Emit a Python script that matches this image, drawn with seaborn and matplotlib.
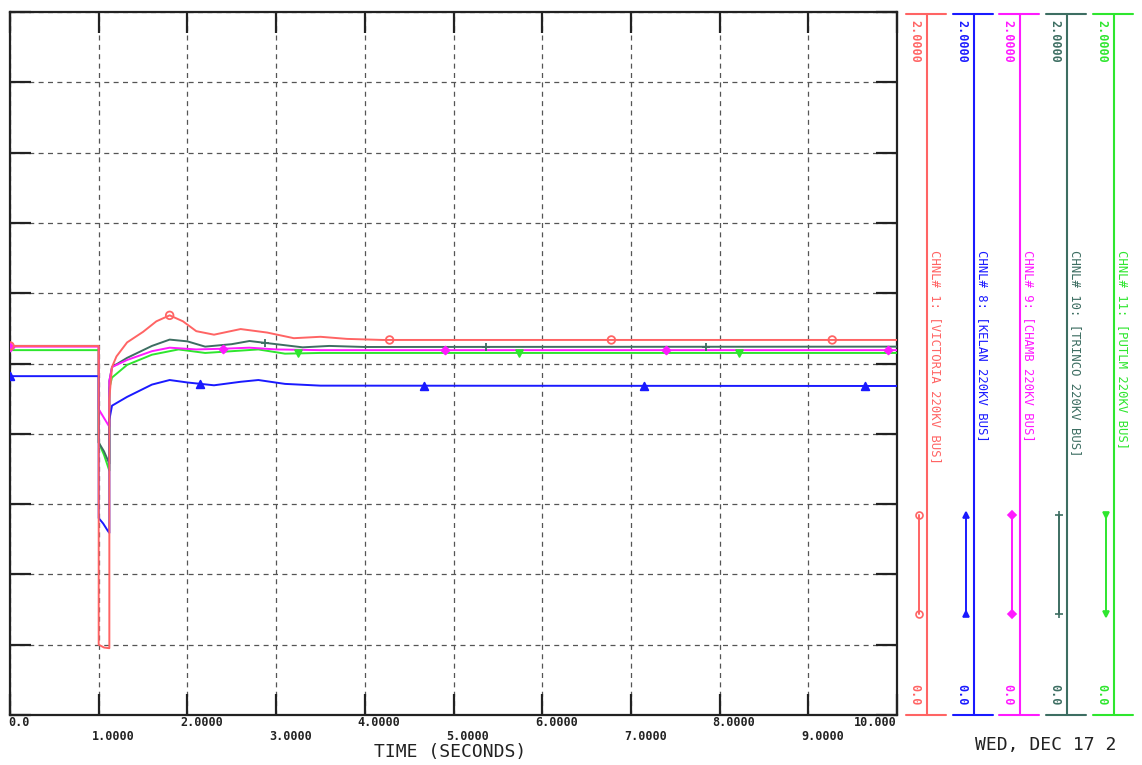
import numpy as np
import pandas as pd
import matplotlib
matplotlib.use("Agg")
import matplotlib.pyplot as plt
from matplotlib.lines import Line2D
from matplotlib import transforms
import seaborn as sns

# ---------------- data ----------------
channel_names = [
    "CHNL# 1: [VICTORIA 220KV BUS]",
    "CHNL# 8: [KELAN 220KV BUS]",
    "CHNL# 9: [CHAMB 220KV BUS]",
    "CHNL# 10: [TRINCO 220KV BUS]",
    "CHNL# 11: [PUTLM 220KV BUS]",
]

t_ch1 = [0.0, 1.0, 1.0, 1.06, 1.12, 1.12, 1.15, 1.20, 1.32, 1.50, 1.65, 1.80, 1.95, 2.10, 2.30, 2.60, 2.90, 3.20, 3.50, 3.80, 4.20, 10.0]
v_ch1 = [1.050, 1.050, 0.200, 0.192, 0.190, 0.900, 0.990, 1.020, 1.060, 1.090, 1.120, 1.137, 1.120, 1.092, 1.082, 1.098, 1.088, 1.072, 1.076, 1.070, 1.067, 1.067]

t_ch8 = [0.0, 1.0, 1.0, 1.05, 1.10, 1.12, 1.12, 1.15, 1.32, 1.60, 1.80, 2.00, 2.30, 2.60, 2.80, 3.10, 3.50, 10.0]
v_ch8 = [0.964, 0.964, 0.560, 0.545, 0.525, 0.518, 0.840, 0.880, 0.905, 0.940, 0.953, 0.946, 0.938, 0.948, 0.953, 0.942, 0.937, 0.936]

t_ch9 = [0.0, 1.0, 1.0, 1.12, 1.12, 1.15, 1.32, 1.60, 1.80, 2.10, 2.40, 2.70, 3.00, 3.50, 10.0]
v_ch9 = [1.048, 1.048, 0.870, 0.820, 0.950, 0.990, 1.010, 1.035, 1.045, 1.040, 1.042, 1.045, 1.040, 1.038, 1.038]

t_ch10 = [0.0, 1.0, 1.0, 1.06, 1.12, 1.12, 1.15, 1.32, 1.60, 1.80, 2.00, 2.20, 2.50, 2.70, 3.00, 3.30, 3.60, 4.00, 10.0]
v_ch10 = [1.050, 1.050, 0.775, 0.750, 0.715, 0.950, 0.990, 1.016, 1.050, 1.068, 1.063, 1.048, 1.055, 1.064, 1.055, 1.046, 1.050, 1.047, 1.048]

t_ch11 = [0.0, 1.0, 1.0, 1.06, 1.12, 1.12, 1.15, 1.32, 1.60, 1.90, 2.20, 2.50, 2.80, 3.10, 3.50, 10.0]
v_ch11 = [1.038, 1.038, 0.775, 0.740, 0.695, 0.930, 0.960, 0.996, 1.025, 1.040, 1.030, 1.035, 1.040, 1.028, 1.030, 1.030]

# marker times along each trace
mk_ch1 = [0.0, 1.80, 4.28, 6.78, 9.27]
mk_ch8 = [0.0, 2.14, 4.67, 7.15, 9.64]
mk_ch9 = [0.0, 2.40, 4.90, 7.40, 9.90]
mk_ch10 = [2.87, 5.37, 7.85]
mk_ch11 = [3.25, 5.74, 8.22]

x_ticks = [0, 1, 2, 3, 4, 5, 6, 7, 8, 9, 10]
x_tick_labels = ["0.0", "1.0000", "2.0000", "3.0000", "4.0000", "5.0000",
                 "6.0000", "7.0000", "8.0000", "9.0000", "10.000"]
x_label = "TIME (SECONDS)"
date_text = "WED, DEC 17 2"
scale_top = "2.0000"
scale_bottom = "0.0"

colors = ["#ff6464", "#1a1aff", "#ff1aff", "#3d6e62", "#2ee62e"]
markers = ["o", "^", "D", "+", "v"]
marker_sizes = [30, 30, 16, 36, 24]
marker_fill = ["none", None, None, None, None]

series = [(t_ch1, v_ch1, mk_ch1), (t_ch8, v_ch8, mk_ch8), (t_ch9, v_ch9, mk_ch9),
          (t_ch10, v_ch10, mk_ch10), (t_ch11, v_ch11, mk_ch11)]

# ---------------- figure ----------------
sns.set_style("white")
plt.rcParams["font.family"] = ["DejaVu Sans Mono", "DejaVu Sans"]

W, H = 1142, 765
fig = plt.figure(figsize=(W / 100, H / 100), dpi=100)
L, R, T, B = 10, 897, 12, 715
ax = fig.add_axes([L / W, 1 - B / H, (R - L) / W, (B - T) / H])

def P(x, y):
    return (x / W, 1 - y / H)

# draw in z-order: green, teal, magenta, blue, red
order = [4, 3, 2, 1, 0]
for i in order:
    t, v, mk = series[i]
    df = pd.DataFrame({"t": t, "v": v})
    sns.lineplot(data=df, x="t", y="v", ax=ax, sort=False, estimator=None,
                 color=colors[i], linewidth=1.4, zorder=3 + (5 - i) * 0.1)
    mv = np.interp(mk, t[5:], v[5:])
    mv = np.where(np.array(mk) < 1.0, v[0], mv)
    mdf = pd.DataFrame({"t": mk, "v": mv})
    kw = dict(marker=markers[i], s=marker_sizes[i], color=colors[i],
              edgecolor=colors[i], linewidth=1.3, zorder=4)
    if marker_fill[i] == "none":
        kw.update(facecolor="none")
    sns.scatterplot(data=mdf, x="t", y="v", ax=ax, legend=False, **kw)

ax.set_xlim(0, 10)
ax.set_ylim(0, 2)
ax.set_xticks(x_ticks)
ax.set_yticks(np.arange(0, 2.01, 0.2))
ax.set_xticklabels([])
ax.set_yticklabels([])
ax.set_xlabel("")
ax.set_ylabel("")
ax.grid(True, color="#555555", linestyle=(0, (4, 3.5)), linewidth=0.9, zorder=1)
ax.set_axisbelow(True)
ax.tick_params(which="major", direction="in", length=15, width=1.6, color="#222222",
               top=True, right=True, bottom=True, left=True)
for sp in ax.spines.values():
    sp.set_visible(True)
    sp.set_color("#222222")
    sp.set_linewidth(1.6)

# x tick labels in two staggered rows
for k, (xt, lab) in enumerate(zip(x_ticks, x_tick_labels)):
    tr = transforms.blended_transform_factory(ax.transData, fig.transFigure)
    if lab == "10.000":
        ha, off = "right", 0
    else:
        ha, off = "left", -7 if k > 0 else -2
    yy = 722 if k % 2 == 0 else 737
    ax.text(xt, 1 - yy / H, lab, transform=tr + transforms.ScaledTranslation(off / 100, 0, fig.dpi_scale_trans),
            ha=ha, va="center", fontsize=8.5, fontweight="bold", color="#222222", clip_on=False)

fig.text(*P(450, 752), x_label, ha="center", va="center", fontsize=13, color="#222222")
fig.text(*P(975, 745), date_text, ha="left", va="center", fontsize=13, color="#222222")

# ---------------- right-hand channel scales ----------------
axis_x = [927, 974, 1020, 1067, 1114]
sample_ms = [5, 5, 4, 6, 5]
for i, lx in enumerate(axis_x):
    c = colors[i]
    fig.add_artist(Line2D([P(lx, 0)[0]] * 2, [P(0, 14)[1], P(0, 715)[1]],
                          transform=fig.transFigure, color=c, lw=1.5))
    for yy in (14, 715):
        fig.add_artist(Line2D([P(lx - 21, 0)[0], P(lx + 19, 0)[0]], [P(0, yy)[1]] * 2,
                              transform=fig.transFigure, color=c, lw=1.5))
    fig.text(*P(lx - 12, 20), scale_top, rotation=-90, ha="center", va="top",
             fontsize=8.5, fontweight="bold", color=c)
    fig.text(*P(lx - 12, 705), scale_bottom, rotation=-90, ha="center", va="bottom",
             fontsize=8.5, fontweight="bold", color=c)
    fig.text(*P(lx + 8, 250), channel_names[i], rotation=-90, ha="center", va="top",
             fontsize=8.8, color=c)
    mx = lx - 8
    ln = Line2D([P(mx, 0)[0]] * 2, [P(0, 515)[1], P(0, 614)[1]], transform=fig.transFigure,
                color=c, lw=1.4, marker=markers[i], markersize=sample_ms[i],
                markerfacecolor=("none" if marker_fill[i] == "none" else c),
                markeredgecolor=c, markeredgewidth=1.2)
    fig.add_artist(ln)

fig.savefig("out.png", dpi=100, facecolor="white")
